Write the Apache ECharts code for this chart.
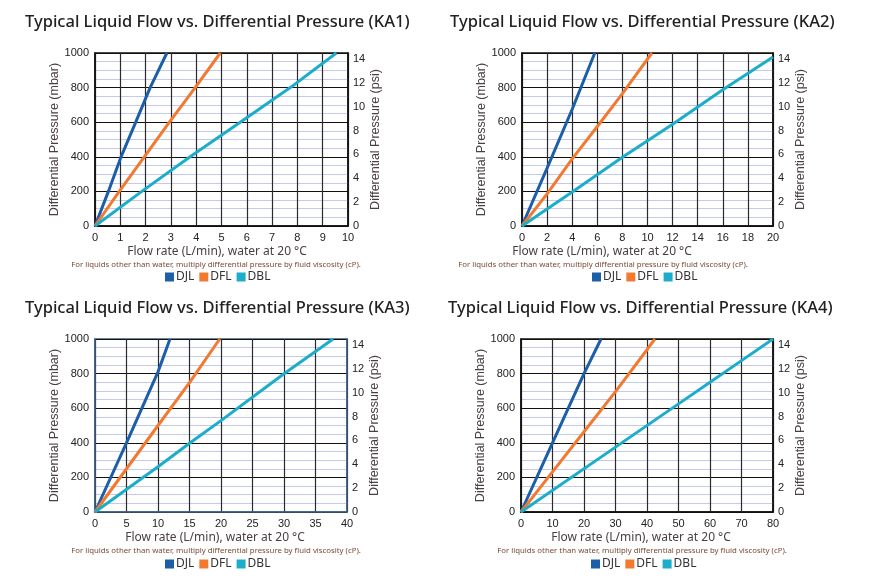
<!DOCTYPE html>
<html><head><meta charset="utf-8">
<script src="https://cdn.jsdelivr.net/npm/echarts@6/dist/echarts.min.js"></script>
<style>html,body{margin:0;padding:0;background:#fff}#c{width:880px;height:583px}</style>
</head><body><div id="c"></div>
<script>
// ---------- data ----------
const panelTitles = [
  'Typical Liquid Flow vs. Differential Pressure (KA1)',
  'Typical Liquid Flow vs. Differential Pressure (KA2)',
  'Typical Liquid Flow vs. Differential Pressure (KA3)',
  'Typical Liquid Flow vs. Differential Pressure (KA4)'
];
const xAxisTitle = 'Flow rate (L/min), water at 20 °C';
const noteText = 'For liquids other than water, multiply differential pressure by fluid viscosity (cP).';
const leftAxisTitle = 'Differential Pressure (mbar)';
const rightAxisTitle = 'Differential Pressure (psi)';
const seriesNames = ['DJL', 'DFL', 'DBL'];
const xMaxes = [10, 20, 40, 80];
const xIntervals = [1, 2, 5, 10];
const mbarMax = 1000;
const mbarPerPsi = 68.9476;

// [flow L/min, pressure mbar]
const ka1DJL = [[0,0],[0.53,200],[1.03,400],[1.61,600],[2.18,800],[2.84,1000]];
const ka1DFL = [[0,0],[0.96,200],[1.95,400],[2.94,600],[3.96,800],[4.95,1000]];
const ka1DBL = [[0,0],[1.85,200],[3.76,400],[5.74,600],[7.72,800],[9.54,1000]];

const ka2DJL = [[0,0],[2,335],[4,675],[5.8,1000]];
const ka2DFL = [[0,0],[2,186],[4,388],[6,575],[8,765],[10.35,1000]];
const ka2DBL = [[0,0],[4,196],[8,397],[12,588],[16,787],[20,977]];

const ka3DJL = [[0,0],[5,400],[10,810],[11.9,1000]];
const ka3DFL = [[0,0],[5,250],[10,500],[15,748],[19.8,1000]];
const ka3DBL = [[0,0],[10,262],[15,397],[20,528],[30,799],[37.8,1000]];

const ka4DJL = [[0,0],[10,400],[20,800],[25.4,1000]];
const ka4DFL = [[0,0],[10,232],[20,464],[30,696],[40,938],[42.5,1000]];
const ka4DBL = [[0,0],[30,375],[50,625],[60,750],[70,875],[80,1000]];

const panelData = [
  [ka1DJL, ka1DFL, ka1DBL],
  [ka2DJL, ka2DFL, ka2DBL],
  [ka3DJL, ka3DFL, ka3DBL],
  [ka4DJL, ka4DFL, ka4DBL]
];

// ---------- layout / style ----------
const colors = ['#1c5ea8', '#f27a30', '#1badc9'];
const grids = [
  {left: 95, top: 53, width: 253, height: 173},
  {left: 522, top: 53, width: 251, height: 173},
  {left: 95, top: 339, width: 252, height: 173},
  {left: 521, top: 339, width: 252, height: 173}
];
const borderColors = ['#111', '#111', '#3d5f86', '#111'];
const titlePos = [[25, 22], [450, 22], [25, 308], [448, 308]];
const xNamePos = [[217, 252], [602, 252], [215, 538], [641, 538]];
const notePos = [[216, 265], [603, 265], [216, 551], [642, 551]];
const legendPos = [[165, 271], [592, 271], [165, 558], [591, 558]];

const labelFont = 'Liberation Sans, Arial, sans-serif';
const uiFont = 'Noto Sans, Lato, sans-serif';

const option = {
  animation: false,
  backgroundColor: '#fff',
  grid: grids.map((g, i) => Object.assign({
    show: true, borderColor: borderColors[i], borderWidth: 1.5, backgroundColor: 'transparent'
  }, g)),
  xAxis: grids.map((g, i) => ({
    type: 'value', gridIndex: i, min: 0, max: xMaxes[i], interval: xIntervals[i],
    axisLine: {show: true, lineStyle: {color: borderColors[i], width: 1.5}},
    axisTick: {show: false},
    axisLabel: {color: '#222', fontSize: 11, fontFamily: labelFont, margin: 6, formatter: v => String(v)},
    splitLine: {show: true, lineStyle: {color: '#2b2b2b', width: 1.2}}
  })),
  yAxis: [],
  series: [],
  legend: legendPos.map(p => ({
    data: seriesNames, left: p[0], top: p[1], icon: 'rect', itemWidth: 9, itemHeight: 9,
    itemGap: 5, padding: 0, selectedMode: false,
    textStyle: {fontSize: 12, color: '#333', fontFamily: uiFont, padding: [0, 0, 0, -3]}
  })),
  graphic: []
};

grids.forEach((g, i) => {
  option.yAxis.push({
    type: 'value', gridIndex: i, min: 0, max: mbarMax, interval: 200, position: 'left',
    name: leftAxisTitle, nameLocation: 'middle', nameRotate: 90, nameGap: 31,
    nameTextStyle: {color: '#4a4040', fontSize: 12.5, fontFamily: labelFont},
    axisLine: {show: true, lineStyle: {color: borderColors[i], width: 1.5}},
    axisTick: {show: false},
    axisLabel: {color: '#222', fontSize: 11, fontFamily: labelFont, margin: 6, formatter: v => String(v)},
    splitLine: {show: true, lineStyle: {color: '#111', width: 1.2}},
    minorTick: {show: false, splitNumber: 4},
    minorSplitLine: {show: true, lineStyle: {color: '#c3c9ea', width: 1}}
  });
  option.yAxis.push({
    type: 'value', gridIndex: i, min: 0, max: mbarMax / mbarPerPsi, interval: 2, position: 'right',
    name: rightAxisTitle, nameLocation: 'middle', nameRotate: 90, nameGap: 18,
    nameTextStyle: {color: '#4a4040', fontSize: 12.5, fontFamily: labelFont},
    axisLine: {show: true, lineStyle: {color: borderColors[i], width: 1.5}},
    axisTick: {show: false},
    axisLabel: {color: '#222', fontSize: 11, fontFamily: labelFont, margin: 5,
      formatter: v => (Math.abs(v - Math.round(v)) < 1e-6 && Math.round(v) % 2 === 0) ? String(Math.round(v)) : ''},
    splitLine: {show: false}
  });
  panelData[i].forEach((d, k) => {
    option.series.push({
      name: seriesNames[k], type: 'line', xAxisIndex: i, yAxisIndex: i * 2,
      data: d, showSymbol: false, symbol: 'none', smooth: false, z: 5,
      lineStyle: {color: colors[k], width: 3}, itemStyle: {color: colors[k]}
    });
  });
  option.graphic.push({
    type: 'text', x: titlePos[i][0], y: titlePos[i][1],
    style: {text: panelTitles[i], fill: '#222', font: '500 16.5px ' + uiFont,
      align: 'left', verticalAlign: 'middle', textAlign: 'left', textVerticalAlign: 'middle'}
  });
  option.graphic.push({
    type: 'text', x: xNamePos[i][0], y: xNamePos[i][1],
    style: {text: xAxisTitle, fill: '#4a4040', font: '12px ' + uiFont,
      align: 'center', verticalAlign: 'middle', textAlign: 'center', textVerticalAlign: 'middle'}
  });
  option.graphic.push({
    type: 'text', x: notePos[i][0], y: notePos[i][1],
    style: {text: noteText, fill: '#7a4a35', font: '7.8px ' + uiFont,
      align: 'center', verticalAlign: 'middle', textAlign: 'center', textVerticalAlign: 'middle'}
  });
});

const chart = echarts.init(document.getElementById('c'), null, {renderer: 'canvas'});
chart.setOption(option);
</script></body></html>
